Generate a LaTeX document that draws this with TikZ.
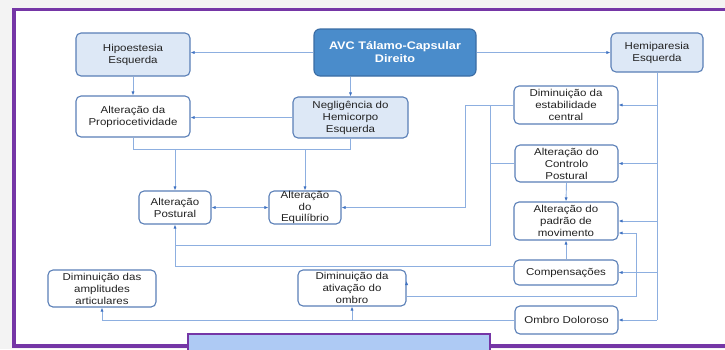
\documentclass[tikz,border=0pt]{standalone}
\usepackage{fontspec}
\setmainfont{Liberation Sans}[FakeStretch=1.15]
\usetikzlibrary{arrows.meta,calc}
\definecolor{bggrey}{HTML}{F3F3F3}
\definecolor{framepurple}{HTML}{7536A6}
\definecolor{capblue}{HTML}{AECAF4}
\definecolor{boxline}{HTML}{5A7FB7}
\definecolor{lightfill}{HTML}{DDE8F6}
\definecolor{avcfill}{HTML}{4A8CCB}
\definecolor{avcline}{HTML}{3A6CA4}
\definecolor{conn}{HTML}{8DAFE0}
\definecolor{tipc}{HTML}{3F72C2}
\definecolor{txt}{HTML}{222222}
\tikzset{
  wbox/.style={draw=boxline, line width=1.1pt, rounded corners=5pt, fill=white, inner sep=0pt,
    align=center, text=txt, font=\fontsize{10}{12}\selectfont},
  lbox/.style={wbox, fill=lightfill},
  avcbox/.style={draw=avcline, line width=1.1pt, rounded corners=6pt, fill=avcfill, inner sep=0pt,
    align=center, text=white, font=\fontsize{11}{13}\selectfont\bfseries},
  ln/.style={draw=conn, line width=0.9pt},
  arr/.style={ln, -{Latex[length=4pt,width=3.2pt,color=tipc]}},
  darr/.style={ln, {Latex[length=4pt,width=3.2pt,color=tipc]}-{Latex[length=4pt,width=3.2pt,color=tipc]}}
}
\begin{document}
\begin{tikzpicture}[x=1pt,y=-1pt]
\useasboundingbox (0,0) rectangle (725,349);
\clip (0,0) rectangle (725,349);
\fill[bggrey] (0,0) rectangle (725,349);
\filldraw[fill=white, draw=framepurple, line width=3.8pt] (14,9.5) rectangle (745,346);

% nodes
\node[lbox, minimum width=114, minimum height=43] (hipo) at (133,54.5) {Hipoestesia\\Esquerda};
\node[avcbox, minimum width=162, minimum height=47] (avc) at (395,52.5) {AVC Tálamo-Capsular\\Direito};
\node[lbox, minimum width=92, minimum height=39] (hemi) at (657,52.5) {Hemiparesia\\Esquerda};
\node[wbox, minimum width=114, minimum height=41] (prop) at (133,116.5) {Alteração da\\Propriocetividade};
\node[lbox, minimum width=115, minimum height=41] (negl) at (350.5,117.5) {Negligência do\\Hemicorpo\\Esquerda};
\node[wbox, minimum width=104, minimum height=38] (estab) at (566,105) {Diminuição da\\estabilidade\\central};
\node[wbox, minimum width=103, minimum height=37] (ctrl) at (566.5,163.5) {Alteração do\\Controlo\\Postural};
\node[wbox, minimum width=104, minimum height=38] (padrao) at (566,221) {Alteração do\\padrão de\\movimento};
\node[wbox, minimum width=104, minimum height=25] (comp) at (566,272.5) {Compensações};
\node[wbox, minimum width=103, minimum height=28] (ombroD) at (566.5,320) {Ombro Doloroso};
\node[wbox, minimum width=72, minimum height=33] (postural) at (175,207.5) {Alteração\\Postural};
\node[wbox, minimum width=72, minimum height=33, font=\fontsize{10}{11.5}\selectfont] (equil) at (305,207.5) {Alteração\\do\\Equilíbrio};
\node[wbox, minimum width=108, minimum height=37] (amp) at (102,288.5) {Diminuição das\\amplitudes\\articulares};
\node[wbox, minimum width=108, minimum height=36] (ativ) at (352,288) {Diminuição da\\ativação do\\ombro};

% coordinates
\coordinate (j1) at (465,105);
\coordinate (j2) at (490,105);
\coordinate (k1) at (175,245);
\coordinate (k2) at (175,266.5);
\coordinate (r1) at (636,233);
\coordinate (bus) at (0,149);

% connectors
\draw[arr] (avc.west) -- (avc.west -| hipo.east);
\draw[arr] (avc.east) -- (avc.east -| hemi.west);
\draw[arr] (negl.north |- avc.south) -- (negl.north);
\draw[arr] (hipo.south) -- (prop.north);
\draw[arr] (negl.west) -- (negl.west -| prop.east);
\draw[ln] (prop.south) |- (bus -| negl.south) -- (negl.south);
\draw[arr] (postural.north |- bus) -- (postural.north);
\draw[arr] (equil.north |- bus) -- (equil.north);
\draw[darr] (postural.east) -- (equil.west);

\draw[ln] (estab.west) -- (j1);
\draw[arr] (j1) |- (equil.east);
\draw[arr] (j2) |- (k1) -- (postural.south);
\draw[ln] (ctrl.west) -- (ctrl.west -| j2);
\draw[ln] (comp.west |- k2) -- (k2) -- (k1);

\draw[ln] (hemi.south) -- (hemi.south |- ombroD.east);
\foreach \t in {estab,ctrl,padrao,comp,ombroD}
  \draw[arr] (hemi.south |- \t.east) -- (\t.east);

\draw[arr] ($(ativ.east)+(0,-7)$) -- ($(ativ.east)+(0,-7)$ -| comp.west);
\draw[arr] ($(ativ.east)+(0,8)$) -| (r1) -- (r1 -| padrao.east);
\draw[arr] (comp.north) -- (padrao.south);
\draw[arr] (ctrl.south) -- (padrao.north);

\draw[ln] (ombroD.west) -- (ombroD.west -| amp.south);
\draw[arr] (ativ.south |- ombroD.west) -- (ativ.south);
\draw[arr] (amp.south |- ombroD.west) -- (amp.south);

% caption box (text cut off at the bottom edge)
\filldraw[fill=capblue, draw=framepurple, line width=2pt] (188,333.5) rectangle (490,360);
\end{tikzpicture}
\end{document}
